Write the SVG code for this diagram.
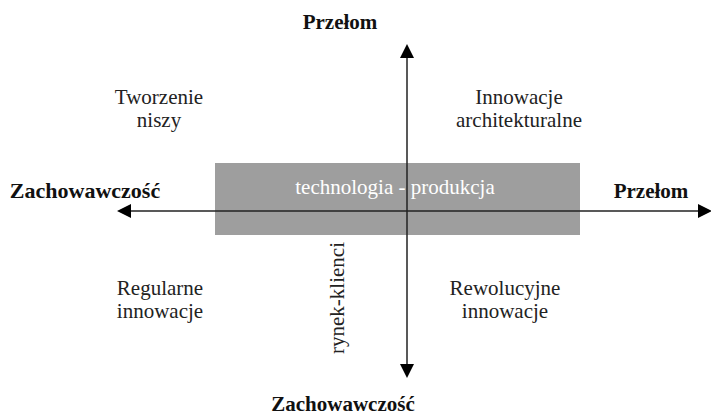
<svg xmlns="http://www.w3.org/2000/svg" width="711" height="416" viewBox="0 0 711 416">
  <style>
    .t { font-family: "Liberation Serif", "Times New Roman", serif; font-size: 21px; fill: #222; text-anchor: middle; }
    .b { font-family: "Liberation Serif", "Times New Roman", serif; font-size: 21px; font-weight: bold; fill: #111; text-anchor: middle; }
    .axis { stroke: #222; stroke-width: 1.5; fill: none; }
    .head { fill: #000; }
  </style>
  <rect width="711" height="416" fill="#fff"/>

  <g id="band">
    <rect x="215" y="163" width="365" height="72" fill="#9e9e9e"/>
    <text class="t" x="395" y="194" style="fill:#fff">technologia - produkcja</text>
  </g>

  <g id="connectors">
    <line class="axis" x1="120" y1="211" x2="705" y2="211"/>
    <line class="axis" x1="407" y1="50" x2="407" y2="372"/>
    <path class="head" d="M407,44 L400,58 L414,58 Z"/>
    <path class="head" d="M407,378 L400,364 L414,364 Z"/>
    <path class="head" d="M117,211 L131,204 L131,218 Z"/>
    <path class="head" d="M712,211 L698,204 L698,218 Z"/>
  </g>

  <g id="axis-labels">
    <text class="b" x="340" y="29">Przełom</text>
    <text class="b" x="85" y="198" style="font-size:22px">Zachowawczość</text>
    <text class="b" x="651" y="198">Przełom</text>
    <text class="b" x="343" y="411">Zachowawczość</text>
    <text class="t" transform="translate(344,298) rotate(-90)">rynek-klienci</text>
  </g>

  <g id="q-top-left">
    <text class="t" x="159" y="104">Tworzenie</text>
    <text class="t" x="159" y="127">niszy</text>
  </g>
  <g id="q-top-right">
    <text class="t" x="519" y="104">Innowacje</text>
    <text class="t" x="519" y="127">architekturalne</text>
  </g>
  <g id="q-bottom-left">
    <text class="t" x="160" y="295">Regularne</text>
    <text class="t" x="160" y="318">innowacje</text>
  </g>
  <g id="q-bottom-right">
    <text class="t" x="505" y="295">Rewolucyjne</text>
    <text class="t" x="505" y="318">innowacje</text>
  </g>
</svg>
